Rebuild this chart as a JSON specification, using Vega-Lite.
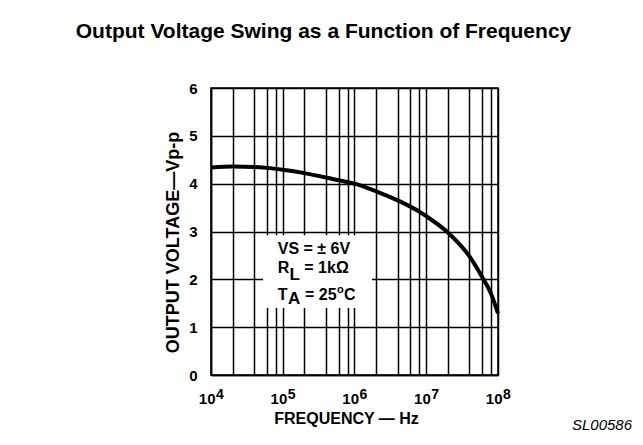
{
  "$schema": "https://vega.github.io/schema/vega-lite/v6.json",
  "width": 287,
  "height": 287,
  "autosize": {"type": "none"},
  "padding": {"left": 211, "top": 88, "right": 145, "bottom": 70},
  "background": "white",
  "config": {
    "font": "Liberation Sans",
    "view": {"stroke": "#000", "strokeWidth": 1.5}
  },
  "title": {
    "text": "Output Voltage Swing as a Function of Frequency",
    "font": "Liberation Sans",
    "fontSize": 21,
    "fontWeight": "bold",
    "color": "#000",
    "anchor": "middle",
    "frame": "group",
    "dx": -31,
    "offset": 22,
    "baseline": "alphabetic"
  },
  "datasets": {
    "curve": [
      {"f": 10000, "v": 4.34},
      {"f": 20000, "v": 4.36},
      {"f": 40000, "v": 4.35},
      {"f": 60000, "v": 4.33},
      {"f": 100000, "v": 4.29},
      {"f": 200000, "v": 4.22},
      {"f": 400000, "v": 4.13},
      {"f": 600000, "v": 4.07},
      {"f": 1000000, "v": 4.0},
      {"f": 2000000, "v": 3.84},
      {"f": 4000000, "v": 3.65},
      {"f": 6000000, "v": 3.52},
      {"f": 8000000, "v": 3.415},
      {"f": 10000000, "v": 3.32},
      {"f": 20000000, "v": 2.98},
      {"f": 40000000, "v": 2.48},
      {"f": 60000000, "v": 2.05},
      {"f": 80000000, "v": 1.7},
      {"f": 100000000, "v": 1.29}
    ],
    "box": [{"f": 53050, "f2": 1753500, "v": 1.4, "v2": 2.92}],
    "notes": [
      {"f": 85050, "v": 2.524, "t": "VS = ± 6V"},
      {"f": 85050, "v": 2.126, "t": "R"},
      {"f": 199700, "v": 2.126, "t": "= 1kΩ"},
      {"f": 85050, "v": 1.568, "t": "T"},
      {"f": 204200, "v": 1.568, "t": "= 25"},
      {"f": 714000, "v": 1.568, "t": "C"}
    ],
    "subs": [
      {"f": 124200, "v": 1.986, "t": "L"},
      {"f": 118300, "v": 1.478, "t": "A"}
    ],
    "sups": [{"f": 570000, "v": 1.704, "t": "o"}],
    "decades": [
      {"f": 10000, "v": 0, "t": "4"},
      {"f": 100000, "v": 0, "t": "5"},
      {"f": 1000000, "v": 0, "t": "6"},
      {"f": 10000000, "v": 0, "t": "7"},
      {"f": 100000000, "v": 0, "t": "8"}
    ],
    "code": [{"f": 7375000000, "v": -1.15, "t": "SL00586"}]
  },
  "encoding": {
    "x": {
      "field": "f",
      "type": "quantitative",
      "scale": {"type": "log", "domain": [10000, 100000000], "nice": false},
      "axis": {
        "values": [10000, 20000, 40000, 60000, 80000, 100000, 200000, 400000, 600000, 800000, 1000000, 2000000, 4000000, 6000000, 8000000, 10000000, 20000000, 40000000, 60000000, 80000000, 100000000],
        "grid": true,
        "gridColor": "#000",
        "gridWidth": 1.5,
        "gridOpacity": 1,
        "ticks": false,
        "tickSize": 0,
        "domainColor": "#000",
        "domainWidth": 1.5,
        "labelExpr": "abs(log(datum.value)/LN10 - round(log(datum.value)/LN10)) < 0.001 ? '10' : ''",
        "labelAlign": "right",
        "labelOffset": 4,
        "labelBaseline": "alphabetic",
        "labelPadding": 28,
        "labelFlush": false,
        "labelOverlap": false,
        "labelFont": "Liberation Sans",
        "labelFontSize": 15,
        "labelFontWeight": "bold",
        "labelColor": "#000",
        "title": "FREQUENCY — Hz",
        "titleFont": "Liberation Sans",
        "titleFontSize": 16,
        "titleFontWeight": "bold",
        "titleColor": "#000",
        "titleX": 135,
        "titleY": 48,
        "titleAlign": "center",
        "titleBaseline": "alphabetic"
      }
    },
    "y": {
      "field": "v",
      "type": "quantitative",
      "scale": {"domain": [0, 6], "nice": false},
      "axis": {
        "values": [0, 1, 2, 3, 4, 5, 6],
        "grid": true,
        "gridColor": "#000",
        "gridWidth": 1.5,
        "gridOpacity": 1,
        "ticks": false,
        "tickSize": 0,
        "domainColor": "#000",
        "domainWidth": 1.5,
        "labelPadding": 14,
        "labelFont": "Liberation Sans",
        "labelFontSize": 15,
        "labelFontWeight": "bold",
        "labelColor": "#000",
        "labelBaseline": "middle",
        "labelFlush": false,
        "labelOverlap": false,
        "title": "OUTPUT VOLTAGE—Vp-p",
        "titleFont": "Liberation Sans",
        "titleFontSize": 18,
        "titleFontWeight": "bold",
        "titleColor": "#000",
        "titleAngle": -90,
        "titleX": -33,
        "titleY": 154,
        "titleAlign": "center",
        "titleBaseline": "alphabetic"
      }
    }
  },
  "layer": [
    {
      "data": {"name": "box"},
      "mark": {"type": "rect", "color": "#fff", "opacity": 1},
      "encoding": {
        "x2": {"field": "f2"},
        "y2": {"field": "v2"}
      }
    },
    {
      "data": {"name": "curve"},
      "mark": {"type": "line", "color": "#000", "strokeWidth": 4, "interpolate": "monotone", "strokeCap": "butt"}
    },
    {
      "data": {"name": "notes"},
      "mark": {"type": "text", "align": "left", "baseline": "alphabetic", "font": "Liberation Sans", "fontSize": 16, "fontWeight": "bold", "color": "#000"},
      "encoding": {"text": {"field": "t"}}
    },
    {
      "data": {"name": "subs"},
      "mark": {"type": "text", "align": "left", "baseline": "alphabetic", "font": "Liberation Sans", "fontSize": 17, "fontWeight": "bold", "color": "#000"},
      "encoding": {"text": {"field": "t"}}
    },
    {
      "data": {"name": "sups"},
      "mark": {"type": "text", "align": "left", "baseline": "alphabetic", "font": "Liberation Sans", "fontSize": 11, "fontWeight": "bold", "color": "#000"},
      "encoding": {"text": {"field": "t"}}
    },
    {
      "data": {"name": "decades"},
      "mark": {"type": "text", "align": "left", "baseline": "alphabetic", "dx": 5, "dy": 24, "font": "Liberation Sans", "fontSize": 14, "fontWeight": "bold", "color": "#000"},
      "encoding": {"text": {"field": "t"}}
    },
    {
      "data": {"name": "code"},
      "mark": {"type": "text", "align": "right", "baseline": "alphabetic", "font": "Liberation Sans", "fontSize": 15, "fontStyle": "italic", "color": "#000"},
      "encoding": {"text": {"field": "t"}}
    }
  ]
}
